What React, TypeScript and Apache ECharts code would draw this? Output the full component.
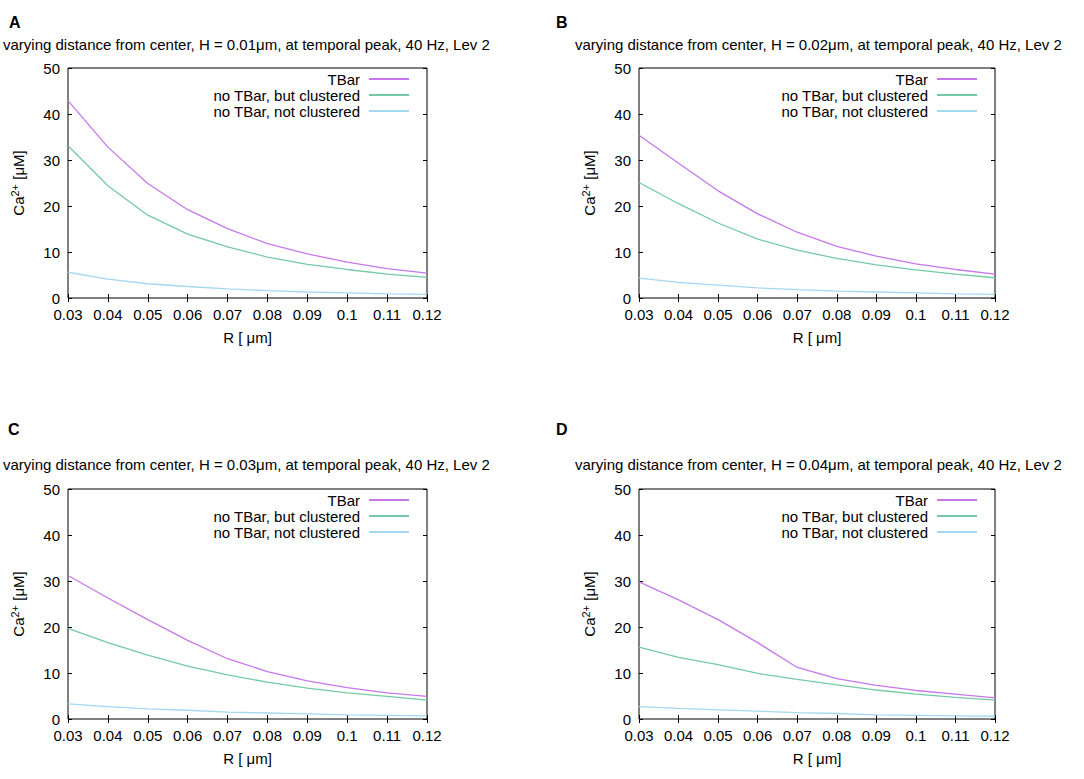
import React, { useEffect, useRef } from "react";
import * as echarts from "echarts";

const R_LABELS = ["0.03", "0.04", "0.05", "0.06", "0.07", "0.08", "0.09", "0.1", "0.11", "0.12"];
const SERIES_NAMES = ["TBar", "no TBar, but clustered", "no TBar, not clustered"];
const PANEL_LETTERS = ["A", "B", "C", "D"];
const PANEL_H = ["0.01", "0.02", "0.03", "0.04"];

const A_TBAR = [42.9, 32.8, 24.9, 19.2, 15.1, 11.8, 9.6, 7.8, 6.4, 5.4];
const A_CLUST = [33.1, 24.4, 18.0, 13.9, 11.1, 8.9, 7.3, 6.2, 5.2, 4.5];
const A_NOCLUST = [5.6, 4.1, 3.1, 2.5, 2.0, 1.6, 1.3, 1.1, 0.9, 0.8];

const B_TBAR = [35.4, 29.3, 23.3, 18.3, 14.3, 11.2, 9.1, 7.4, 6.2, 5.2];
const B_CLUST = [25.1, 20.5, 16.3, 12.8, 10.4, 8.6, 7.2, 6.1, 5.2, 4.4];
const B_NOCLUST = [4.3, 3.4, 2.8, 2.2, 1.8, 1.5, 1.3, 1.1, 0.9, 0.8];

const C_TBAR = [31.2, 26.3, 21.6, 17.1, 13.1, 10.3, 8.3, 6.8, 5.7, 4.9];
const C_CLUST = [19.7, 16.6, 13.9, 11.5, 9.6, 8.0, 6.7, 5.7, 4.9, 4.1];
const C_NOCLUST = [3.3, 2.7, 2.2, 1.9, 1.5, 1.3, 1.1, 0.9, 0.8, 0.7];

const D_TBAR = [29.8, 25.9, 21.6, 16.6, 11.2, 8.8, 7.3, 6.2, 5.4, 4.6];
const D_CLUST = [15.6, 13.4, 11.8, 9.9, 8.6, 7.4, 6.3, 5.4, 4.7, 4.1];
const D_NOCLUST = [2.7, 2.3, 2.0, 1.7, 1.4, 1.2, 0.9, 0.8, 0.7, 0.6];

const PANEL_DATA = [
  [A_TBAR, A_CLUST, A_NOCLUST],
  [B_TBAR, B_CLUST, B_NOCLUST],
  [C_TBAR, C_CLUST, C_NOCLUST],
  [D_TBAR, D_CLUST, D_NOCLUST],
];

const Y_MIN = 0;
const Y_MAX = 50;
const Y_STEP = 10;

const COLORS = ["#c678ea", "#74caa4", "#a6d7f1"];
const FONT = "Liberation Sans, Arial, sans-serif";

// layout
const GRIDS = [
  { left: 68, top: 68, width: 359, height: 230 },
  { left: 639, top: 68, width: 356, height: 230 },
  { left: 68, top: 489, width: 359, height: 230 },
  { left: 639, top: 489, width: 356, height: 230 },
];
const LETTER_POS = [
  { left: 9, top: 14 },
  { left: 556, top: 14 },
  { left: 8, top: 421 },
  { left: 556, top: 421 },
];
const TITLE_POS = [
  { left: 3, top: 37 },
  { left: 575, top: 37 },
  { left: 3, top: 457 },
  { left: 575, top: 457 },
];
const LEGEND_POS = [
  { right: 675, top: 71 },
  { right: 107, top: 71 },
  { right: 675, top: 492 },
  { right: 107, top: 492 },
];

function buildOption() {
  const title: any[] = [];
  const grid: any[] = [];
  const xAxis: any[] = [];
  const yAxis: any[] = [];
  const series: any[] = [];
  const legend: any[] = [];

  for (let p = 0; p < 4; p++) {
    title.push({
      text: PANEL_LETTERS[p],
      left: LETTER_POS[p].left,
      top: LETTER_POS[p].top,
      padding: 0,
      textStyle: { fontFamily: FONT, fontSize: 16, fontWeight: "bold", color: "#000" },
    });
    title.push({
      text: `varying distance from center, H = ${PANEL_H[p]}μm, at temporal peak, 40 Hz, Lev 2`,
      left: TITLE_POS[p].left,
      top: TITLE_POS[p].top,
      padding: 0,
      textStyle: { fontFamily: FONT, fontSize: 15, fontWeight: "normal", color: "#000" },
    });
    grid.push({
      ...GRIDS[p],
      show: true,
      borderColor: "#000",
      borderWidth: 1,
      backgroundColor: "transparent",
    });
    // bottom x
    xAxis.push({
      type: "category",
      gridIndex: p,
      data: R_LABELS,
      boundaryGap: false,
      position: "bottom",
      axisLine: { show: false },
      axisTick: { show: true, inside: true, length: 4, alignWithLabel: true, lineStyle: { color: "#000" } },
      axisLabel: { interval: 0, margin: 9, fontFamily: FONT, fontSize: 15, color: "#000" },
      splitLine: { show: false },
      name: "R [ μm]",
      nameLocation: "middle",
      nameGap: 32,
      nameTextStyle: { fontFamily: FONT, fontSize: 15, color: "#000" },
    });
    // top x (mirror ticks)
    xAxis.push({
      type: "category",
      gridIndex: p,
      data: R_LABELS,
      boundaryGap: false,
      position: "top",
      axisLine: { show: false },
      axisTick: { show: true, inside: true, length: 4, lineStyle: { color: "#000" } },
      axisLabel: { show: false },
      splitLine: { show: false },
    });
    // left y
    yAxis.push({
      type: "value",
      gridIndex: p,
      min: Y_MIN,
      max: Y_MAX,
      interval: Y_STEP,
      position: "left",
      axisLine: { show: false },
      axisTick: { show: true, inside: true, length: 4, lineStyle: { color: "#000" } },
      axisLabel: { margin: 8, fontFamily: FONT, fontSize: 15, color: "#000" },
      splitLine: { show: false },
      name: "{a|Ca}{s|2+}{a| [μM]}",
      nameLocation: "middle",
      nameRotate: 90,
      nameGap: 42,
      nameTextStyle: {
        fontFamily: FONT,
        color: "#000",
        rich: {
          a: { fontFamily: FONT, fontSize: 15, color: "#000", lineHeight: 17, verticalAlign: "bottom" },
          s: { fontFamily: FONT, fontSize: 11, color: "#000", lineHeight: 17, verticalAlign: "top", padding: [0, 0, 7, 0] },
        },
      },
    });
    // right y (mirror ticks)
    yAxis.push({
      type: "value",
      gridIndex: p,
      min: Y_MIN,
      max: Y_MAX,
      interval: Y_STEP,
      position: "right",
      axisLine: { show: false },
      axisTick: { show: true, inside: true, length: 4, lineStyle: { color: "#000" } },
      axisLabel: { show: false },
      splitLine: { show: false },
    });

    for (let s = 0; s < 3; s++) {
      series.push({
        type: "line",
        name: SERIES_NAMES[s],
        xAxisIndex: p * 2,
        yAxisIndex: p * 2,
        data: PANEL_DATA[p][s],
        symbol: "none",
        smooth: false,
        lineStyle: { color: COLORS[s], width: 1.3 },
        itemStyle: { color: COLORS[s] },
        z: 3 - s,
      });
    }

    legend.push({
      data: SERIES_NAMES,
      orient: "vertical",
      align: "right",
      right: LEGEND_POS[p].right,
      top: LEGEND_POS[p].top,
      padding: 0,
      icon: "rect",
      itemGap: 0,
      itemWidth: 40,
      itemHeight: 2,
      selectedMode: false,
      textStyle: { fontFamily: FONT, fontSize: 15, lineHeight: 16, color: "#000", padding: [0, 4, 0, 0] },
    });
  }

  return {
    animation: false,
    backgroundColor: "#fff",
    title,
    grid,
    xAxis,
    yAxis,
    series,
    legend,
  };
}

export default function App() {
  const ref = useRef<HTMLDivElement>(null);
  useEffect(() => {
    document.body.style.margin = "0";
    if (!ref.current) return;
    const chart = echarts.init(ref.current, undefined, { renderer: "svg" });
    chart.setOption(buildOption() as any);
    return () => chart.dispose();
  }, []);
  return <div ref={ref} style={{ width: 1084, height: 779, background: "#fff" }} />;
}
